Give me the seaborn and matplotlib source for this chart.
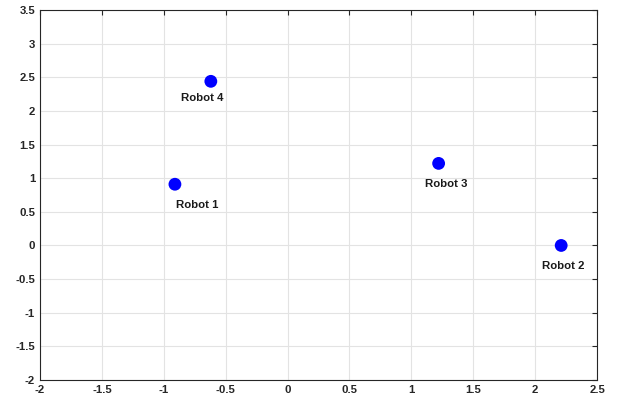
import numpy as np
import pandas as pd
import matplotlib
matplotlib.use("Agg")
import matplotlib.pyplot as plt
import seaborn as sns

# Posiciones de los robots
robots = ["Robot 1", "Robot 2", "Robot 3", "Robot 4"]
pos_x = [-0.91, 2.21, 1.22, -0.62]
pos_y = [0.91, 0.0, 1.22, 2.44]

# Posiciones de las etiquetas (centro del texto)
label_x = [-0.73, 2.23, 1.285, -0.69]
label_y = [0.60, -0.30, 0.92, 2.185]

df = pd.DataFrame({"robot": robots, "x": pos_x, "y": pos_y,
                   "lx": label_x, "ly": label_y})

sns.set_style("white")
plt.rcParams["font.family"] = ["Liberation Sans", "DejaVu Sans"]
plt.rcParams["font.weight"] = "bold"

fig = plt.figure(figsize=(6.19, 4.01), dpi=100)
ax = fig.add_axes([0.0646, 0.0524, 0.9, 0.9226])

sns.scatterplot(data=df, x="x", y="y", ax=ax, color="#0000ff", s=85,
                edgecolor="none", zorder=3)

for _, r in df.iterrows():
    ax.text(r["lx"], r["ly"], r["robot"], ha="center", va="center",
            fontsize=8.2, fontweight="bold", color="#1a1a1a")

ticks_x = np.arange(-2, 2.51, 0.5)
ticks_y = np.arange(-2, 3.51, 0.5)
ax.set_xlim(-2, 2.5)
ax.set_ylim(-2, 3.5)
ax.set_xticks(ticks_x)
ax.set_yticks(ticks_y)
ax.set_xticklabels([f"{v:g}" for v in ticks_x])
ax.set_yticklabels([f"{v:g}" for v in ticks_y])
ax.set_xlabel("")
ax.set_ylabel("")
ax.grid(True, color="#e3e3e3", linewidth=0.8)
ax.set_axisbelow(True)
ax.tick_params(direction="in", length=3.5, width=0.8, top=True, right=True,
               labelsize=8.2, colors="#262626", pad=3.5)
for lbl in ax.get_xticklabels() + ax.get_yticklabels():
    lbl.set_fontweight("bold")
for sp in ax.spines.values():
    sp.set_color("#262626")
    sp.set_linewidth(0.8)

fig.savefig("out.png", dpi=100)
